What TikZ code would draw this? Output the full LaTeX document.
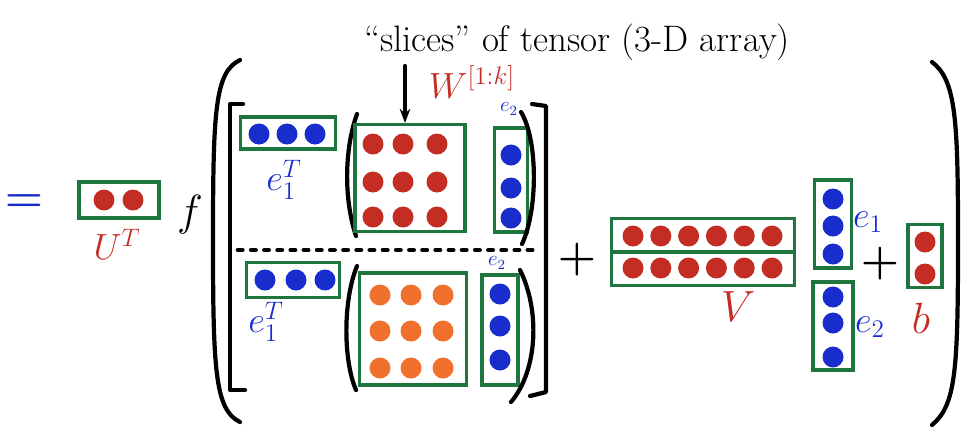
\documentclass[tikz,border=0pt]{standalone}
\usetikzlibrary{arrows.meta}
\definecolor{boxgreen}{RGB}{30,118,62}
\definecolor{dotred}{RGB}{196,45,35}
\definecolor{dotblue}{RGB}{25,45,205}
\definecolor{dotorange}{RGB}{240,112,45}
\tikzset{
  greenbox/.style 2 args={draw=boxgreen, line width=1.8pt, minimum width=#1*0.02cm, minimum height=#2*0.02cm, inner sep=0pt},
  dot/.style={circle, fill=#1, minimum size=0.42cm, inner sep=0pt},
  ink/.style={line width=2.4pt, line cap=round, line join=round},
  lab/.style={font=\fontsize{20}{22}\selectfont, text=#1, inner sep=1pt},
  bigsign/.style={text=#1, inner sep=1pt, font=\fontsize{32}{34}\selectfont\boldmath}
}
\begin{document}
\begin{tikzpicture}[x=0.02cm, y=-0.02cm]
  \useasboundingbox (0,0) rectangle (973,441);
  % left part
  \node (eq) at (24,203) [bigsign=dotblue] {$=$};
  \node (ut) at (119,200) [greenbox={80}{36}] {};
  \foreach \x [count=\i] in {104,133}
    \node (u\i) at (\x,200) [dot=dotred] {};
  \node (utlab) at (117,244) [lab=dotred] {$U^T$};
  \node (f) at (190,215) [lab=black, font=\fontsize{28}{30}\selectfont] {$f$};
  % big brackets
  \draw[ink] (240,60) .. controls (215,72) and (213,110) .. (213,240) .. controls (213,370) and (215,410) .. (240,422);
  \draw[ink] (243,104) -- (230,104) -- (230,390) -- (245,390);
  \draw[ink] (532,104) -- (546,106) -- (546,392) -- (530,396);
  \draw[ink] (932,62) .. controls (956,80) and (958,120) .. (958,240) .. controls (958,370) and (956,405) .. (932,425);
  % top slice
  \node (e1t) at (288,133) [greenbox={95}{32}] {};
  \foreach \x [count=\i] in {259,287,315}
    \node (a\i) at (\x,134) [dot=dotblue] {};
  \node (e1tlab) at (284,180) [lab=dotblue] {$e_1^T$};
  \draw[ink] (357,114) .. controls (344,150) and (344,200) .. (356,236);
  \node (wt) at (410,178) [greenbox={110}{107}] {};
  \foreach \y [count=\j] in {144,182,217}
    \foreach \x [count=\i] in {373,403,437}
      \node (wt\j\i) at (\x,\y) [dot=dotred] {};
  \node (e2t) at (511,180) [greenbox={33}{104}] {};
  \foreach \y [count=\i] in {155,188,218}
    \node (c\i) at (511,\y) [dot=dotblue] {};
  \node (e2tlab) at (509,109) [lab=dotblue, font=\large] {$e_2$};
  \draw[ink] (521,112) .. controls (538,140) and (538,210) .. (522,244);
  % separator
  \draw[line width=2.6pt, dash pattern=on 2.5pt off 5pt, line cap=round] (238,250) -- (535,250);
  % bottom slice
  \node (e1b) at (293,280) [greenbox={93}{35}] {};
  \foreach \x [count=\i] in {265,296,325}
    \node (b\i) at (\x,280) [dot=dotblue] {};
  \node (e1blab) at (266,322) [lab=dotblue] {$e_1^T$};
  \draw[ink] (357,266) .. controls (343,300) and (343,360) .. (356,390);
  \node (wb) at (413,329) [greenbox={107}{112}] {};
  \foreach \y [count=\j] in {295,331,368}
    \foreach \x [count=\i] in {380,411,443}
      \node (wb\j\i) at (\x,\y) [dot=dotorange] {};
  \node (e2b) at (500,330) [greenbox={36}{110}] {};
  \foreach \y [count=\i] in {294,326,360}
    \node (d\i) at (500,\y) [dot=dotblue] {};
  \node (e2blab) at (497,263) [lab=dotblue, font=\large] {$e_2$};
  \draw[ink] (520,270) .. controls (540,310) and (538,370) .. (511,402);
  % caption and arrow
  \node (cap) at (577,42) [font=\fontsize{21}{23}\selectfont] {``slices'' of tensor (3-D array)};
  \coordinate (arr) at (405,66);
  \draw[ink, -{Stealth[length=8pt]}] (arr) -- (arr |- wt.north);
  \node (wlab) at (472,82) [lab=dotred] {$W^{[1:k]}$};
  % linear part
  \node (plus1) at (577,260) [bigsign=black] {$+$};
  \node (v) at (703,252) [greenbox={183}{67}] {};
  \draw[draw=boxgreen, line width=1.8pt] (v.west) -- (v.east);
  \foreach \i in {0,...,5} {
    \node (vt\i) at (633+27.8*\i,236) [dot=dotred] {};
    \node (vb\i) at (633+27.8*\i,268) [dot=dotred] {};
  }
  \node (vlab) at (738,307) [lab=dotred, font=\fontsize{24}{26}\selectfont] {$V$};
  \node (e1r) at (833,224) [greenbox={37}{88}] {};
  \foreach \y [count=\i] in {199,226,254}
    \node (r\i) at (833,\y) [dot=dotblue] {};
  \node (e1rlab) at (868,222) [lab=dotblue] {$e_1$};
  \node (e2r) at (833,326) [greenbox={40}{88}] {};
  \foreach \y [count=\i] in {297,323,357}
    \node (s\i) at (833,\y) [dot=dotblue] {};
  \node (e2rlab) at (870,327) [lab=dotblue] {$e_2$};
  \node (plus2) at (880,264) [bigsign=black] {$+$};
  \node (bb) at (925,256) [greenbox={34}{63}] {};
  \foreach \y [count=\i] in {242,274}
    \node (q\i) at (925,\y) [dot=dotred] {};
  \node (blab) at (921,318) [lab=dotred, font=\fontsize{24}{26}\selectfont] {$b$};
\end{tikzpicture}
\end{document}
